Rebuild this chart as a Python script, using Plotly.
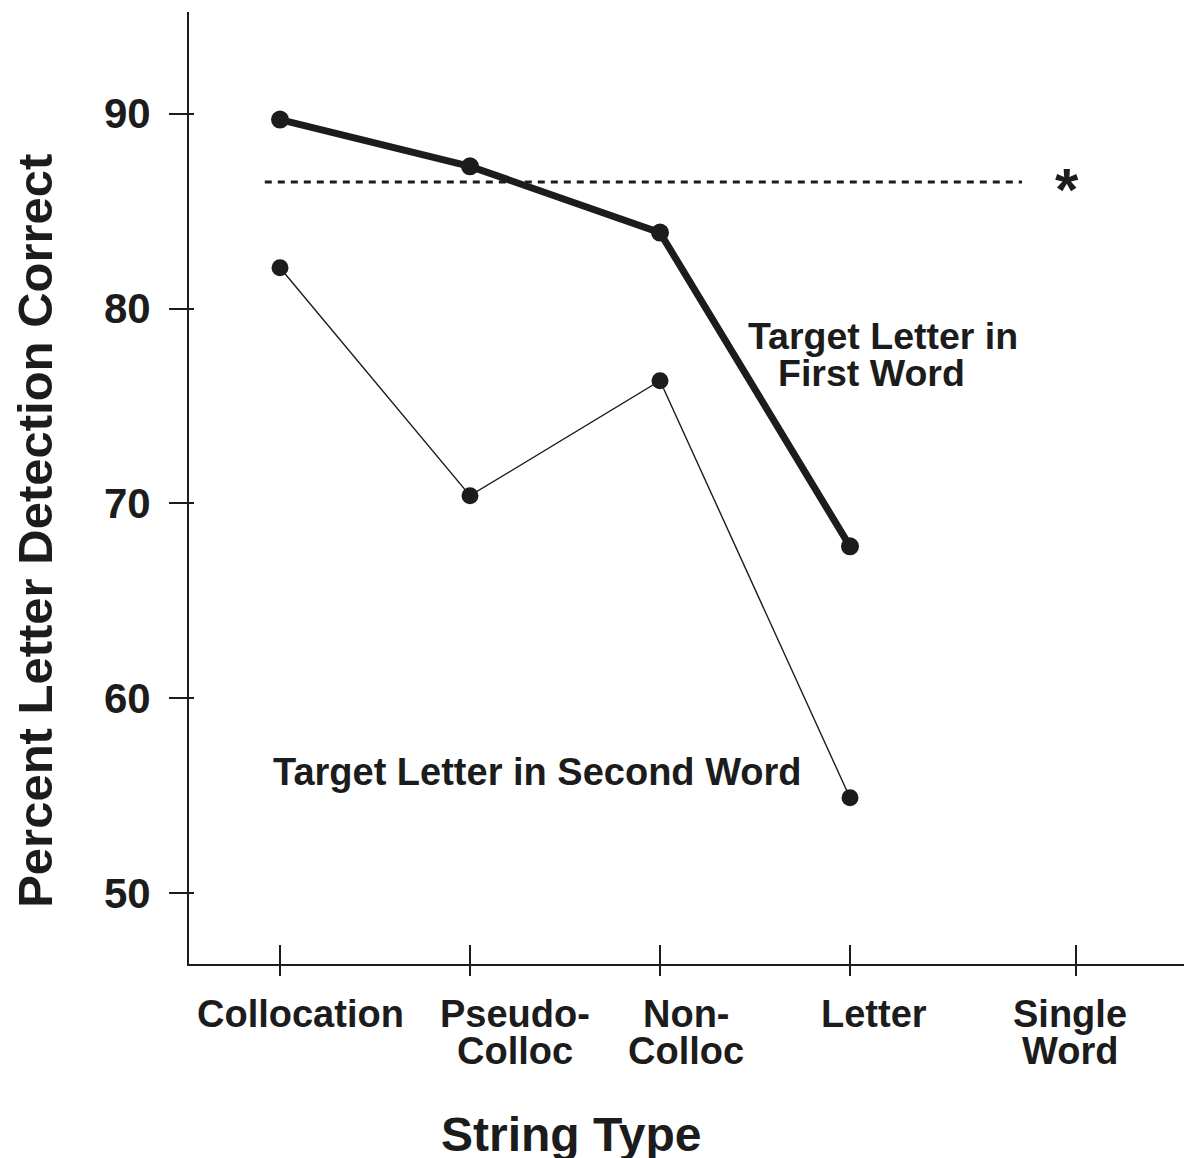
import plotly.graph_objects as go

# ---- data ----
categories = ["Collocation", "Pseudo-Colloc", "Non-Colloc", "Letter", "Single Word"]
label_line1 = ["Collocation", "Pseudo-", "Non-", "Letter", "Single"]
label_line2 = ["", "Colloc", "Colloc", "", "Word"]
first_word = [89.7, 87.3, 83.9, 67.8]
second_word = [82.1, 70.4, 76.3, 54.9]
single_word_level = 86.5
y_ticks = [50, 60, 70, 80, 90]

# ---- layout constants ----
tick_pos = [1, 2, 3, 4, 5.19]
label_xshift = [20, 45, 26, 24, -6]
INK = "#1c1c1c"
FONT = "Liberation Sans, Arial, Helvetica, sans-serif"

fig = go.Figure()

# dotted reference line (single word performance)
fig.add_trace(go.Scatter(
    x=[0.92, 4.905], y=[single_word_level, single_word_level],
    mode="lines", line=dict(color=INK, width=3, dash="7px,6px"),
    hoverinfo="skip", showlegend=False))

fig.add_trace(go.Scatter(
    x=tick_pos[:4], y=second_word, mode="lines+markers",
    line=dict(color=INK, width=1.4), marker=dict(color=INK, size=17),
    name="Target Letter in Second Word", showlegend=False))

fig.add_trace(go.Scatter(
    x=tick_pos[:4], y=first_word, mode="lines+markers",
    line=dict(color=INK, width=7), marker=dict(color=INK, size=18),
    name="Target Letter in First Word", showlegend=False))

# invisible trace to activate the overlay axes (inner tick halves)
fig.add_trace(go.Scatter(x=[tick_pos[0]], y=[y_ticks[0]], xaxis="x2", yaxis="y2",
                         mode="markers", marker=dict(opacity=0), hoverinfo="skip",
                         showlegend=False))

xr = [0.521, 5.8]
yr = [46.37, 95.22]

fig.update_layout(
    width=1184, height=1150,
    margin=dict(l=181, r=0, t=4, b=194),
    paper_bgcolor="white", plot_bgcolor="white",
    font=dict(family=FONT, color=INK),
    xaxis=dict(range=xr, tickvals=tick_pos, ticktext=[""] * 5,
               ticks="outside", ticklen=10, tickwidth=2, tickcolor=INK,
               showline=True, linecolor=INK, linewidth=2,
               showgrid=False, zeroline=False, fixedrange=True),
    yaxis=dict(range=yr, tickvals=y_ticks, ticktext=[str(v) for v in y_ticks],
               ticks="outside", ticklen=18, tickwidth=2, tickcolor=INK,
               tickfont=dict(size=42, weight="bold", family=FONT, color=INK),
               ticklabelstandoff=10,
               showline=True, linecolor=INK, linewidth=2,
               showgrid=False, zeroline=False, fixedrange=True),
    xaxis2=dict(overlaying="x", matches="x", anchor="y", range=xr, tickvals=tick_pos,
                showticklabels=False, ticks="inside", ticklen=19, tickwidth=2,
                tickcolor=INK, showline=False, showgrid=False, zeroline=False),
    yaxis2=dict(overlaying="y", matches="y", anchor="x", range=yr, tickvals=y_ticks,
                showticklabels=False, ticks="inside", ticklen=5, tickwidth=2,
                tickcolor=INK, showline=False, showgrid=False, zeroline=False),
)

ann = []
bold38 = dict(size=38, weight="bold", family=FONT, color=INK)
for i, tp in enumerate(tick_pos):
    for text, ysh in ((label_line1[i], -50), (label_line2[i], -87)):
        if text:
            ann.append(dict(x=tp, xref="x", y=0, yref="paper", text=text,
                            showarrow=False, xanchor="center", yanchor="middle",
                            xshift=label_xshift[i], yshift=ysh, font=bold38))

# axis titles
ann.append(dict(x=0.381, xref="paper", y=0, yref="paper", text="String Type",
                showarrow=False, xanchor="center", yanchor="middle", yshift=-170,
                font=dict(size=48, weight="bold", family=FONT, color=INK)))
ann.append(dict(x=0, xref="paper", y=0.455, yref="paper",
                text="Percent Letter Detection Correct", textangle=-90,
                showarrow=False, xanchor="center", yanchor="middle", xshift=-154,
                font=dict(size=49, weight="bold", family=FONT, color=INK)))

# series labels
lab = dict(size=37.5, weight="bold", family=FONT, color=INK)
ann.append(dict(x=4.174, y=78.61, text="Target Letter in", showarrow=False, font=lab))
ann.append(dict(x=4.111, y=76.72, text="First Word", showarrow=False, font=lab))
ann.append(dict(x=2.353, y=56.22, text="Target Letter in Second Word", showarrow=False,
                font=dict(size=38, weight="bold", family=FONT, color=INK)))
ann.append(dict(x=5.142, y=86.11, text="*", showarrow=False,
                font=dict(size=60, weight="bold", family=FONT, color=INK)))

fig.update_layout(annotations=ann)
fig.write_html("out.html")
